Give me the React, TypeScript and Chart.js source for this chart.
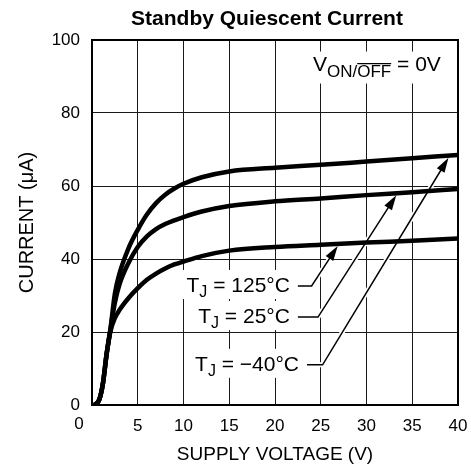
import { useEffect, useRef } from 'react';
import { Chart, registerables } from 'chart.js';

Chart.register(...registerables);

// Supply voltage (V)
const voltage = [0.3, 0.8, 1.2, 1.6, 2, 2.5, 3, 4, 5, 6, 7, 8, 9, 10, 12, 15, 20, 25, 30, 35, 40];
// Quiescent current (µA) for the three curves
const currentTop = [0, 1.5, 6, 14, 20.5, 30.5, 36, 43, 48, 52.2, 55.3, 57.6, 59.3, 60.6, 62.4, 64, 65, 65.8, 66.7, 67.6, 68.5];
const currentMid = [0, 1.5, 6, 14, 20.5, 28, 33, 39, 43.3, 46.2, 48.2, 49.6, 50.6, 51.5, 53, 54.5, 55.8, 56.6, 57.5, 58.3, 59.2];
const currentLow = [0, 1.5, 6, 14, 20, 23.8, 26, 29.3, 32, 34.3, 36, 37.4, 38.5, 39.3, 40.8, 42.3, 43.3, 43.9, 44.5, 45, 45.6];

const xTicks = [0, 5, 10, 15, 20, 25, 30, 35, 40];
const yTicks = [0, 20, 40, 60, 80, 100];

const titleText = 'Standby Quiescent Current';
const xTitle = 'SUPPLY VOLTAGE (V)';
const yTitle = 'CURRENT (\u03BCA)';

// Labels: leader start/end x (V), leader y (µA), target series, arrow tip x (V)
const labelTemps = ['125\u00B0C', '25\u00B0C', '\u221240\u00B0C'];
const labelLeaderStart = [22.5, 22.5, 23.5];
const labelLeaderEnd = [24.0, 24.7, 25.2];
const labelLeaderY = [32.6, 24.1, 11.0];
const labelTarget = [2, 1, 0]; // index into series list (0 top, 1 mid, 2 low)
const labelTipX = [27.0, 33.4, 39.1];

const condX = 24.15;
const condY = 93.0;

const FONT = '"Liberation Sans", Arial, sans-serif';

const seriesList = [currentTop, currentMid, currentLow];

function interp(xs: number[], ys: number[], x: number) {
  for (let i = 0; i < xs.length - 1; i++) {
    if (x >= xs[i] && x <= xs[i + 1]) {
      const t = (x - xs[i]) / (xs[i + 1] - xs[i]);
      return ys[i] + t * (ys[i + 1] - ys[i]);
    }
  }
  return ys[ys.length - 1];
}

type Part = { t: string; size: number; dy: number; over?: boolean };

function measureParts(ctx: CanvasRenderingContext2D, parts: Part[]) {
  let w = 0;
  for (const p of parts) {
    ctx.font = `${p.size}px ${FONT}`;
    w += ctx.measureText(p.t).width;
  }
  return w;
}

function drawParts(ctx: CanvasRenderingContext2D, parts: Part[], x: number, y: number) {
  let cx = x;
  ctx.textBaseline = 'middle';
  ctx.textAlign = 'left';
  ctx.fillStyle = '#000';
  for (const p of parts) {
    ctx.font = `${p.size}px ${FONT}`;
    ctx.fillText(p.t, cx, y + p.dy);
    const w = ctx.measureText(p.t).width;
    if (p.over) {
      ctx.strokeStyle = '#000';
      ctx.lineWidth = 1.2;
      ctx.beginPath();
      ctx.moveTo(cx, y + p.dy - p.size * 0.52);
      ctx.lineTo(cx + w, y + p.dy - p.size * 0.52);
      ctx.stroke();
    }
    cx += w;
  }
}

function labelParts(i: number): Part[] {
  return [
    { t: 'T', size: 21, dy: 0 },
    { t: 'J', size: 16, dy: 7 },
    { t: ' = ' + labelTemps[i], size: 21, dy: 0 },
  ];
}

const condParts: Part[] = [
  { t: 'V', size: 21, dy: 0 },
  { t: 'ON/', size: 17, dy: 7 },
  { t: 'OFF', size: 17, dy: 7, over: true },
  { t: ' = 0V', size: 21, dy: 0 },
];

const annotPlugin = {
  id: 'annot',
  beforeDatasetsDraw(chart: any) {
    const { ctx, scales } = chart;
    const xs = scales.x, ys = scales.y;
    ctx.save();
    for (let i = 0; i < labelTemps.length; i++) {
      const parts = labelParts(i);
      const w = measureParts(ctx, parts);
      const sx = xs.getPixelForValue(labelLeaderStart[i]);
      const py = ys.getPixelForValue(labelLeaderY[i]);
      const right = sx - 8;
      ctx.fillStyle = '#fff';
      ctx.fillRect(right - w - 4, py - 16, w + 8, 29);
      const ex = xs.getPixelForValue(labelLeaderEnd[i]);
      const tx = xs.getPixelForValue(labelTipX[i]);
      const ty = ys.getPixelForValue(interp(voltage, seriesList[labelTarget[i]], labelTipX[i]));
      ctx.strokeStyle = '#fff';
      ctx.lineWidth = 5;
      ctx.beginPath();
      ctx.moveTo(sx, py);
      ctx.lineTo(ex, py);
      ctx.lineTo(tx, ty);
      ctx.stroke();
    }
    const cw = measureParts(ctx, condParts);
    const cx = xs.getPixelForValue(condX);
    const cy = ys.getPixelForValue(condY);
    ctx.fillStyle = '#fff';
    ctx.fillRect(cx - 4, cy - 14, cw + 8, 32);
    ctx.restore();
  },
  afterDatasetsDraw(chart: any) {
    const { ctx, scales, chartArea } = chart;
    const xs = scales.x, ys = scales.y;
    ctx.save();
    ctx.strokeStyle = '#000';
    ctx.lineWidth = 2;
    ctx.strokeRect(chartArea.left, chartArea.top, chartArea.right - chartArea.left, chartArea.bottom - chartArea.top);

    for (let i = 0; i < labelTemps.length; i++) {
      const parts = labelParts(i);
      const w = measureParts(ctx, parts);
      const sx = xs.getPixelForValue(labelLeaderStart[i]);
      const ex = xs.getPixelForValue(labelLeaderEnd[i]);
      const py = ys.getPixelForValue(labelLeaderY[i]);
      drawParts(ctx, parts, sx - 8 - w, py);
      const tx0 = xs.getPixelForValue(labelTipX[i]);
      const ty0 = ys.getPixelForValue(interp(voltage, seriesList[labelTarget[i]], labelTipX[i]));
      const dx = tx0 - ex, dy = ty0 - py;
      const len = Math.hypot(dx, dy);
      const ux = dx / len, uy = dy / len;
      const tx = tx0 - ux * 2.5, ty = ty0 - uy * 2.5;
      ctx.strokeStyle = '#000';
      ctx.lineWidth = 1.5;
      ctx.beginPath();
      ctx.moveTo(sx, py);
      ctx.lineTo(ex, py);
      ctx.lineTo(tx - ux * 10, ty - uy * 10);
      ctx.stroke();
      const hl = 15, hw = 4.5;
      ctx.fillStyle = '#000';
      ctx.beginPath();
      ctx.moveTo(tx, ty);
      ctx.lineTo(tx - ux * hl - uy * hw, ty - uy * hl + ux * hw);
      ctx.lineTo(tx - ux * hl + uy * hw, ty - uy * hl - ux * hw);
      ctx.closePath();
      ctx.fill();
    }
    drawParts(ctx, condParts, xs.getPixelForValue(condX), ys.getPixelForValue(condY));

    // x-axis zero label (offset left, as in the source)
    ctx.font = `17px ${FONT}`;
    ctx.fillStyle = '#000';
    ctx.textAlign = 'center';
    ctx.textBaseline = 'top';
    ctx.fillText(String(xTicks[0]), xs.getPixelForValue(xTicks[0]) - 13, chartArea.bottom + 11);

    ctx.font = `bold 21px ${FONT}`;
    ctx.textAlign = 'center';
    ctx.textBaseline = 'middle';
    ctx.fillText(titleText, 267, 19);
    ctx.restore();
  },
};

export default function App() {
  const ref = useRef<HTMLCanvasElement>(null);
  useEffect(() => {
    document.body.style.margin = '0';
    const canvas = ref.current!;
    const mk = (ys: number[]) => ({
      data: voltage.map((v, i) => ({ x: v, y: ys[i] })),
      borderColor: '#000',
      borderWidth: 4.5,
      pointRadius: 0,
      fill: false,
      cubicInterpolationMode: 'monotone' as const,
    });
    const chart = new Chart(canvas, {
      type: 'line',
      data: { datasets: [mk(currentTop), mk(currentMid), mk(currentLow)] },
      options: {
        animation: false,
        responsive: false,
        layout: { padding: { top: 40, right: 13, left: 0, bottom: 0 } },
        plugins: { legend: { display: false }, tooltip: { enabled: false }, title: { display: false } },
        scales: {
          x: {
            type: 'linear',
            min: xTicks[0],
            max: xTicks[xTicks.length - 1],
            afterBuildTicks: (s: any) => { s.ticks = xTicks.map((v) => ({ value: v })); },
            afterFit: (s: any) => { s.height = 66; s.paddingLeft = 0; s.paddingRight = 0; },
            ticks: {
              color: '#000',
              font: { family: FONT, size: 17 },
              padding: 11,
              maxRotation: 0,
              callback: (v: any) => (v === 0 ? '' : String(v)),
            },
            grid: { color: '#1a1a1a', lineWidth: 1, drawTicks: false },
            border: { color: '#000', width: 2 },
            title: {
              display: true,
              text: xTitle,
              color: '#000',
              font: { family: FONT, size: 19 },
              padding: { top: 0, bottom: 5 },
            },
          },
          y: {
            type: 'linear',
            min: yTicks[0],
            max: yTicks[yTicks.length - 1],
            afterBuildTicks: (s: any) => { s.ticks = yTicks.map((v) => ({ value: v })); },
            afterFit: (s: any) => { s.width = 92; s.paddingTop = 0; s.paddingBottom = 0; },
            ticks: {
              color: '#000',
              font: { family: FONT, size: 17 },
              padding: 12,
            },
            grid: { color: '#1a1a1a', lineWidth: 1, drawTicks: false },
            border: { color: '#000', width: 2 },
            title: {
              display: true,
              text: yTitle,
              color: '#000',
              font: { family: FONT, size: 20 },
              padding: { top: 15, bottom: 0 },
            },
          },
        },
      },
      plugins: [annotPlugin],
    });
    return () => chart.destroy();
  }, []);
  return (
    <div style={{ position: 'fixed', left: 0, top: 0, width: 471, height: 471 }}>
      <canvas ref={ref} width={471} height={471} style={{ display: 'block', width: 471, height: 471 }} />
    </div>
  );
}
